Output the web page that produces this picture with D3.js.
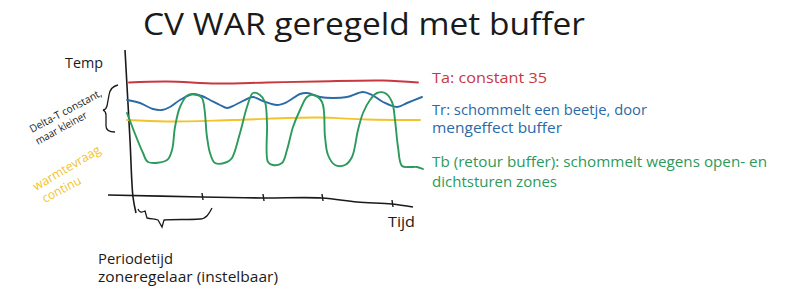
<!DOCTYPE html>
<html><head><meta charset="utf-8">
<script src="https://cdn.jsdelivr.net/npm/d3@7/dist/d3.min.js"></script>
<style>body{margin:0;background:#fff}svg{display:block}text{font-family:"Open Sans","DejaVu Sans",sans-serif}</style>
</head><body><svg id="c" width="800" height="298"></svg>
<script>
// ---- data (time units, temperature) ----
const taTime = [6,44,94,144,194,260,295];
const taTemp = [34.9,35.1,34.7,34.9,35.1,35.3,34.9];
const trTime = [4,17,30,39,47,57,70,79,87,97,104,112,124,130,140,154,164,177,184,197,210,224,240,249,260,274,284,299];
const trTemp = [31.4,30.8,29.6,29.4,30,31.4,32.6,32.2,31.4,30.4,29.8,30.4,31.6,32,31.2,30.4,31,32.6,32.8,32,31.8,32,33,32.4,31,30,30.8,32];
const demandTime = [4,44,110,194,244,297];
const demandTemp = [27.4,27.1,27.4,27.9,27.5,27.4];
const tbTime = [4,20,25,44,49,52,57,65,74,79,84,87,92,104,109,117,124,130,137,142,144,145,150,159,164,170,177,184,190,199,202,205,212,222,229,235,240,247,254,262,269,272,275,279,287,294,300];
const tbTemp = [28.8,20.8,19,19.4,21.4,26,30,32.4,32.4,31.8,24,20.8,18.8,19,19.8,24.8,30,32.8,32.4,31,26.8,19,18.4,18.8,21.4,26,29.4,32,32.4,31,24,20.4,18.4,18.4,20,25.4,28.8,31.4,32.8,32.8,31,27.4,22,18.2,18,18,17.6];
const tickTimes = [79,140,199,269];
const axisTime = [-15,79,140,199,234,269,290];
const axisTemp = [12.4,12.0,11.8,11.8,11.0,10.6,10.0];
const yAxisTime = [2,7,10,13];
const yAxisTemp = [41.4,23.4,12,8.8];
const colors = {ta:"#c8383f", tr:"#2a6aa8", demand:"#f2c42c", tb:"#2b9a5c", ink:"#1a1a1a"};

const svg = d3.select("#c");
const x = d3.scaleLinear([0,300],[123,423]);
const y = d3.scaleLinear([15,35],[182,82]);
const smooth = d3.line().x(d=>x(d[0])).y(d=>y(d[1])).curve(d3.curveCatmullRom.alpha(0.5));
const zip = (a,b)=>a.map((v,i)=>[v,b[i]]);

// axes (hand-drawn style)
svg.append("path").attr("d", smooth(zip(yAxisTime,yAxisTemp))).attr("fill","none").attr("stroke",colors.ink).attr("stroke-width",1.6);
svg.append("path").attr("d", smooth(zip(axisTime,axisTemp))).attr("fill","none").attr("stroke",colors.ink).attr("stroke-width",1.6);
const axisY = d3.scaleLinear(axisTime, axisTemp);
svg.selectAll("line.tick").data(tickTimes).join("line").attr("class","tick")
  .attr("x1",d=>x(d)).attr("x2",d=>x(d)+1)
  .attr("y1",d=>y(axisY(d))-4).attr("y2",d=>y(axisY(d))+3)
  .attr("stroke",colors.ink).attr("stroke-width",1.4);

// series
const series = [
  [taTime,taTemp,colors.ta],
  [trTime,trTemp,colors.tr],
  [demandTime,demandTemp,colors.demand],
  [tbTime,tbTemp,colors.tb]
];
series.forEach(([t,v,c])=>{
  svg.append("path").attr("d", smooth(zip(t,v))).attr("fill","none")
    .attr("stroke",c).attr("stroke-width",1.9).attr("stroke-linejoin","round").attr("stroke-linecap","round");
});

// braces
svg.append("path").attr("d","M138,209 C139,212 141,213 145,211 L147,218 C151,219 155,219 158,220 L162,227 L164,220 C175,219 188,220 200,219 C206,219 209,214 212,208")
  .attr("fill","none").attr("stroke",colors.ink).attr("stroke-width",1.3);
svg.append("path").attr("d","M118,85 C113,86 110,89 109,95 L107,106 C106,109 105,110 103,110 C105,111 106,112 106,115 L106,126 C106,130 109,132 115,132")
  .attr("fill","none").attr("stroke",colors.ink).attr("stroke-width",1.3);

// texts
function txt(s, px, py, size, color, len, rot){
  const t = svg.append("text").attr("x",px).attr("y",py).attr("font-size",size).attr("fill",color).text(s);
  if(len) t.attr("textLength",len).attr("lengthAdjust","spacingAndGlyphs");
  if(rot) t.attr("transform",`rotate(${rot},${px},${py})`);
  return t;
}
txt("CV WAR geregeld met buffer",143,35,31,colors.ink,442);
txt("Temp",65,68,14,colors.ink,38);
txt("Delta-T constant,",32,133,10.5,colors.ink,80,-28);
txt("maar kleiner",38,145,10.5,colors.ink,57,-29);
txt("warmtevraag",36,191,12.5,colors.demand,76,-30.5);
txt("continu",45,203,12.5,colors.demand,42,-28);
txt("Ta: constant 35",432,83,14,colors.ta,115);
txt("Tr: schommelt een beetje, door",432,115,14,colors.tr,215);
txt("mengeffect buffer",432,133,14,colors.tr,130);
txt("Tb (retour buffer): schommelt wegens open- en",432,167,14,colors.tb,335);
txt("dichtsturen zones",432,187,14,colors.tb,125);
txt("Tijd",388,227,14,colors.ink,27);
txt("Periodetijd",98,264,14,colors.ink,75);
txt("zoneregelaar (instelbaar)",98,282,14,colors.ink,180);
</script></body></html>
